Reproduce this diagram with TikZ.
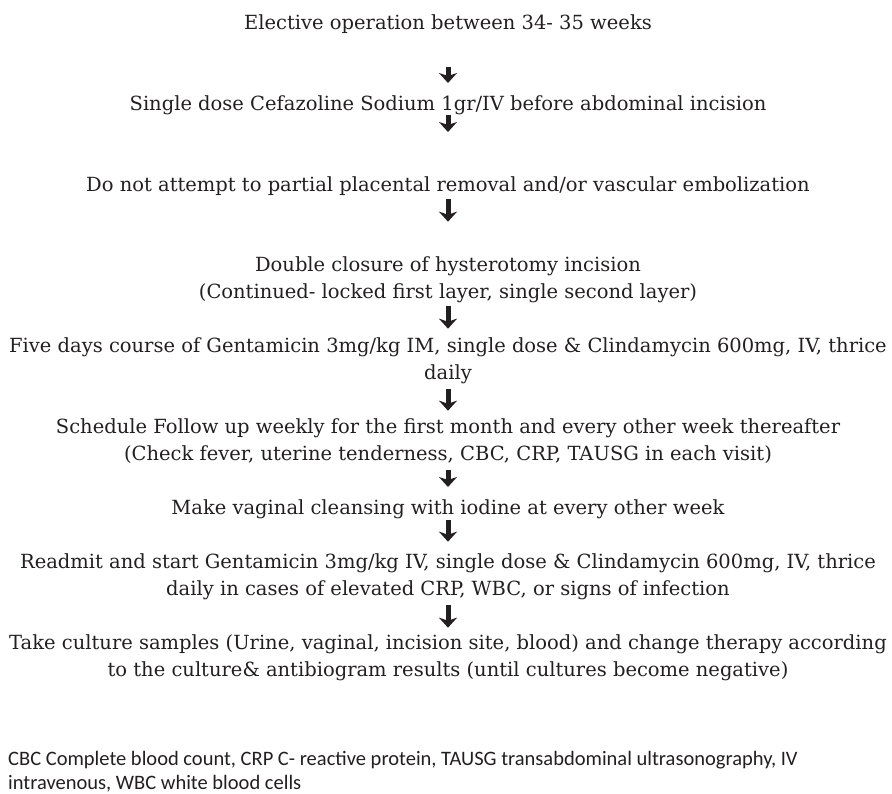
\documentclass[tikz,border=0pt]{standalone}
\usepackage{fontspec}
\setmainfont{DejaVu Serif}
\newfontfamily\notefont{Carlito}
\usepackage{xcolor}
\definecolor{inkgray}{HTML}{231F20}
\usepackage{tikz}
\usetikzlibrary{arrows.meta}

\begin{document}
\begin{tikzpicture}[x=1pt, y=-1pt, inkgray,
  flowtext/.style={anchor=base, align=center, inner sep=0pt, outer sep=0pt,
    font=\fontsize{19.5}{26.5}\selectfont,
    execute at begin node={\rule{0pt}{20pt}},
    execute at end node={\rule[-5pt]{0pt}{5pt}}},
  flowarr/.style={line width=5pt, -{Stealth[length=10pt, width=18pt, inset=3pt]}},
  notetext/.style={anchor=base west, align=left, inner sep=0pt,
    font=\notefont\fontsize{20.5}{24}\selectfont}]
  \useasboundingbox (0,0) rectangle (892,793);

  % steps of the protocol (multi-line nodes sit on their last baseline)
  \node[flowtext] (n1) at (448,29) {Elective operation between 34- 35 weeks};
  \node[flowtext] (n2) at (448,110) {Single dose Cefazoline Sodium 1gr/IV before abdominal incision};
  \node[flowtext] (n3) at (448,191) {Do not attempt to partial placental removal and/or vascular embolization};
  \node[flowtext] (n4) at (448,298) {Double closure of hysterotomy incision\\(Continued- locked first layer, single second layer)};
  \node[flowtext] (n5) at (448,379) {Five days course of Gentamicin 3mg/kg IM, single dose \& Clindamycin 600mg, IV, thrice\\daily};
  \node[flowtext] (n6) at (448,460) {Schedule Follow up weekly for the first month and every other week thereafter\\(Check fever, uterine tenderness, CBC, CRP, TAUSG in each visit)};
  \node[flowtext] (n7) at (448,514) {Make vaginal cleansing with iodine at every other week};
  \node[flowtext] (n8) at (448,595) {Readmit and start Gentamicin 3mg/kg IV, single dose \& Clindamycin 600mg, IV, thrice\\daily in cases of elevated CRP, WBC, or signs of infection};
  \node[flowtext] (n9) at (448,676) {Take culture samples (Urine, vaginal, incision site, blood) and change therapy according\\to the culture\& antibiogram results (until cultures become negative)};

  % arrows
  \foreach \a/\b/\s/\e in {n1/n2/33/7, n2/n3/0/39, n3/n4/3/35, n4/n5/3/9,
                          n5/n6/5/8, n6/n7/5/7, n7/n8/1/12, n8/n9/5/7}
    \draw[flowarr, shorten <=\s pt, shorten >=\e pt] (\a) -- (\b);

  % abbreviations
  \node[notetext] (abbr) at (8,789) {CBC Complete blood count, CRP C- reactive protein, TAUSG transabdominal ultrasonography, IV\\intravenous, WBC white blood cells};

\end{tikzpicture}
\end{document}
